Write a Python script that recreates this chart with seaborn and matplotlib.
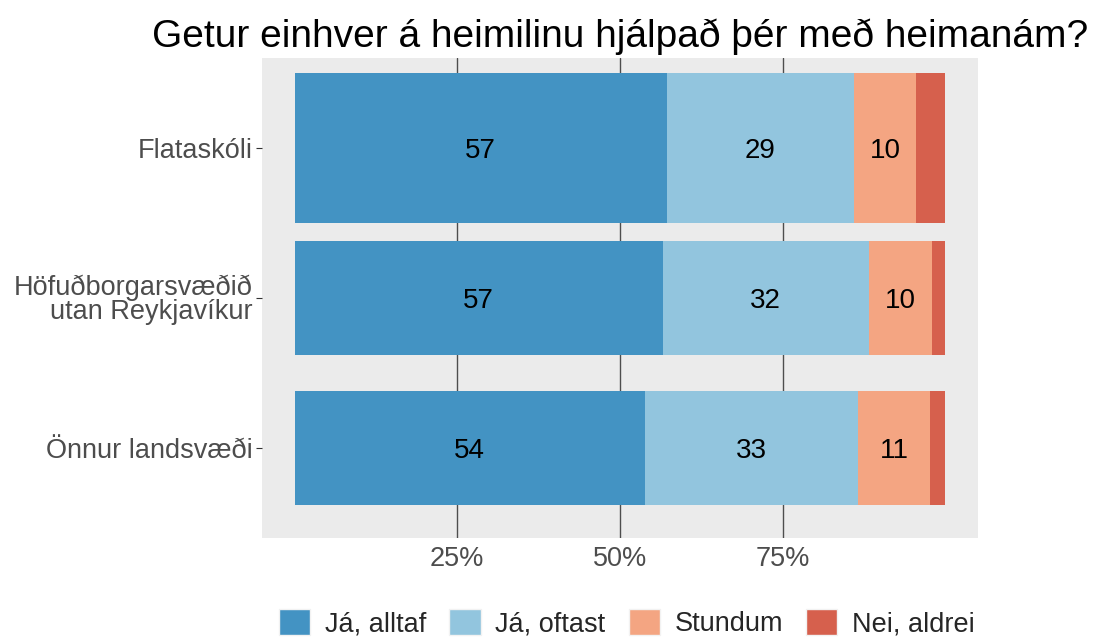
import matplotlib
matplotlib.use("Agg")
import matplotlib.pyplot as plt
import seaborn as sns
import numpy as np
import pandas as pd
from matplotlib.patches import Patch

title = "Getur einhver á heimilinu hjálpað þér með heimanám?"
categories = ["Flataskóli", "Höfuðborgarsvæðið\nutan Reykjavíkur", "Önnur landsvæði"]
series = ["Já, alltaf", "Já, oftast", "Stundum", "Nei, aldrei"]
ja_alltaf = [57.2, 56.6, 53.8]
ja_oftast = [28.7, 31.6, 32.8]
stundum = [9.6, 9.7, 11.1]
nei_aldrei = [4.5, 2.1, 2.3]
bar_widths = [1.0, 0.76, 0.76]
colors = ["#4393C3", "#92C5DE", "#F4A582", "#D6604D"]
xticks = [25, 50, 75]
xticklabels = ["25%", "50%", "75%"]

sns.set_theme(style="white")
plt.rcParams["font.family"] = ["Liberation Sans", "DejaVu Sans"]

df = pd.DataFrame({"cat": categories, series[0]: ja_alltaf, series[1]: ja_oftast,
                   series[2]: stundum, series[3]: nei_aldrei})

fig = plt.figure(figsize=(11, 6.41), dpi=100)
ax = fig.add_axes([262/1100, 1-538/641, (978-262)/1100, (538-58)/641])
ax.set_facecolor("#EBEBEB")

ypos = np.arange(len(categories))
left = np.zeros(len(categories))
for s, c in zip(series, colors):
    vals = df[s].to_numpy()
    ax.barh(ypos, vals, left=left, height=bar_widths, color=c, edgecolor="none", zorder=3)
    for y, v, l in zip(ypos, vals, left):
        if v >= 8:
            ax.text(l + v/2, y, f"{v:.0f}", ha="center", va="center_baseline", fontsize=20, color="black", zorder=4)
    left = left + vals

ax.set_xlim(-5, 105)
ax.set_ylim(len(categories) - 0.4, -0.6)
ax.set_xticks(xticks)
ax.set_xticklabels(xticklabels)
ax.set_yticks(ypos)
ax.set_yticklabels(categories, linespacing=0.9)
for x in xticks:
    ax.axvline(x, color="#4D4D4D", lw=1.0, zorder=1)
for sp in ax.spines.values():
    sp.set_visible(False)
ax.tick_params(axis="x", length=0, labelsize=19.5, labelcolor="#4D4D4D", pad=6)
ax.tick_params(axis="y", length=4, width=0.8, color="#333333", labelsize=19.5, labelcolor="#4D4D4D", pad=3, left=True)
ax.set_xlabel("")
ax.set_ylabel("")
ax.set_title(title, fontsize=28, color="black", pad=8)

handles = [Patch(facecolor=c, edgecolor="#F2F2F2", label=s) for s, c in zip(series, colors)]
fig.legend(handles=handles, loc="center", bbox_to_anchor=(627/1100, 1-623/641), ncol=4,
           frameon=False, fontsize=19.5, handlelength=1.15, handleheight=1.1,
           handletextpad=0.55, columnspacing=0.85)

fig.savefig("out.png", dpi=100)
